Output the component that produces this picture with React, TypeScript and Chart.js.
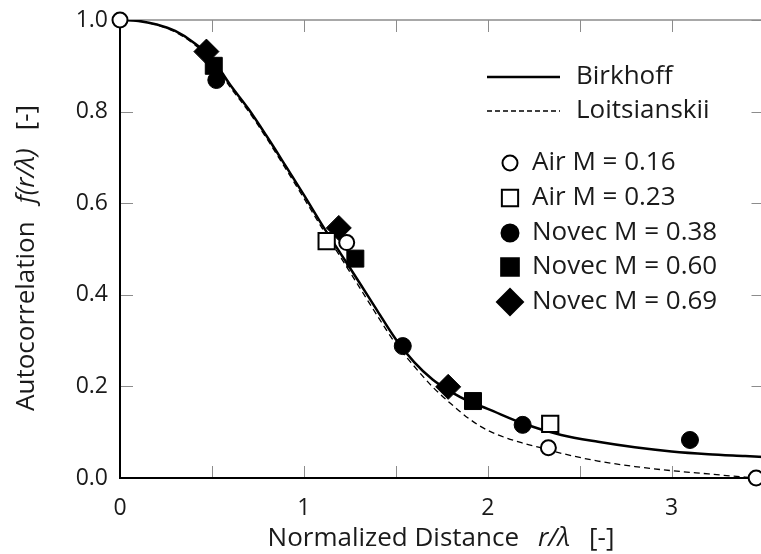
import React, { useEffect, useRef } from 'react';
import { Chart, registerables } from 'chart.js';

Chart.register(...registerables);

// ---------- data ----------
const birkhoffX = [0, 0.1, 0.2, 0.3, 0.4, 0.5, 0.6, 0.7, 0.8, 0.9, 1.0, 1.1, 1.2, 1.3, 1.4, 1.5, 1.6, 1.7, 1.8, 1.9, 2.0, 2.2, 2.4, 2.6, 2.8, 3.0, 3.2, 3.4, 3.5];
const birkhoffY = [1.0, 0.998, 0.99, 0.976, 0.951, 0.916, 0.858, 0.805, 0.745, 0.682, 0.618, 0.552, 0.49, 0.428, 0.365, 0.303, 0.253, 0.215, 0.188, 0.167, 0.151, 0.118, 0.094, 0.079, 0.067, 0.058, 0.052, 0.048, 0.046];

const loitsX = [0, 0.1, 0.2, 0.3, 0.4, 0.5, 0.6, 0.7, 0.8, 0.9, 1.0, 1.1, 1.2, 1.3, 1.4, 1.5, 1.6, 1.7, 1.8, 1.9, 2.0, 2.2, 2.3, 2.4, 2.6, 2.8, 3.0, 3.2, 3.4, 3.5];
const loitsY = [1.0, 0.998, 0.989, 0.974, 0.948, 0.912, 0.853, 0.8, 0.74, 0.676, 0.611, 0.545, 0.482, 0.418, 0.354, 0.293, 0.244, 0.199, 0.162, 0.129, 0.104, 0.075, 0.065, 0.054, 0.037, 0.025, 0.016, 0.009, 0.002, 0.0];

const airM016X = [0, 1.233, 2.33, 3.46];
const airM016Y = [1.0, 0.514, 0.066, 0.0];

const airM023X = [1.124, 2.34];
const airM023Y = [0.517, 0.118];

const novecM038X = [0.524, 1.538, 2.19, 3.10];
const novecM038Y = [0.869, 0.288, 0.116, 0.083];

const novecM060X = [0.51, 1.28, 1.92];
const novecM060Y = [0.90, 0.479, 0.168];

const novecM069X = [0.47, 1.19, 1.785];
const novecM069Y = [0.931, 0.546, 0.199];

const lineLabels = ['Birkhoff', 'Loitsianskii'];
const markerLabels = ['Air M = 0.16', 'Air M = 0.23', 'Novec M = 0.38', 'Novec M = 0.60', 'Novec M = 0.69'];

const xTitleParts = ['Normalized Distance', 'r/λ', '[-]'];
const yTitleParts = ['Autocorrelation', 'f(r/λ)', '[-]'];

const X_MIN = 0, X_MAX = 3.5, X_STEP = 0.5;
const Y_MIN = 0, Y_MAX = 1, Y_STEP = 0.2;

const zip = (xs: number[], ys: number[]) => xs.map((x, i) => ({ x, y: ys[i] }));

// ---------- style ----------
const FONT = '"Open Sans", "DejaVu Sans", sans-serif';
const FS_TICK = 23;
const FS = 26;
const TEXT = '#1a1a1a';
const GRAY = '#8c8c8c';

type Marker = 'circle' | 'rect' | 'rectRot';

function drawMarker(ctx: CanvasRenderingContext2D, kind: Marker, x: number, y: number, r: number, filled: boolean) {
  ctx.beginPath();
  if (kind === 'circle') {
    ctx.arc(x, y, r, 0, Math.PI * 2);
  } else if (kind === 'rect') {
    const s = r * Math.SQRT1_2;
    ctx.rect(x - s, y - s, 2 * s, 2 * s);
  } else {
    ctx.moveTo(x - r, y);
    ctx.lineTo(x, y - r);
    ctx.lineTo(x + r, y);
    ctx.lineTo(x, y + r);
    ctx.closePath();
  }
  ctx.fillStyle = filled ? '#000' : '#fff';
  ctx.fill();
  ctx.lineWidth = 2;
  ctx.strokeStyle = '#000';
  ctx.stroke();
}

function drawParts(ctx: CanvasRenderingContext2D, parts: string[], italic: boolean[], gap: number, cx: number, cy: number) {
  const fonts = italic.map((it) => `${it ? 'italic ' : ''}${FS}px ${FONT}`);
  const widths = parts.map((p, i) => {
    ctx.font = fonts[i];
    return ctx.measureText(p).width;
  });
  const total = widths.reduce((a, b) => a + b, 0) + gap * (parts.length - 1);
  let x = cx - total / 2;
  ctx.textAlign = 'left';
  ctx.textBaseline = 'middle';
  ctx.fillStyle = TEXT;
  parts.forEach((p, i) => {
    ctx.font = fonts[i];
    ctx.fillText(p, x, cy);
    x += widths[i] + gap;
  });
}

const decorPlugin = {
  id: 'decor',
  beforeDatasetsDraw(chart: any) {
    const { ctx, chartArea: a, scales } = chart;
    const xs = scales.x, ys = scales.y;
    ctx.save();
    // gray top/right frame
    ctx.strokeStyle = GRAY;
    ctx.lineWidth = 1.5;
    ctx.beginPath();
    ctx.moveTo(a.left, a.top);
    ctx.lineTo(a.right, a.top);
    ctx.lineTo(a.right, a.bottom);
    ctx.stroke();
    // inward ticks
    ctx.lineWidth = 1;
    ctx.beginPath();
    xs.ticks.forEach((t: any) => {
      const px = Math.round(xs.getPixelForValue(t.value)) + 0.5;
      ctx.moveTo(px, a.bottom);
      ctx.lineTo(px, a.bottom - 12);
      ctx.moveTo(px, a.top);
      ctx.lineTo(px, a.top + 12);
    });
    ys.ticks.forEach((t: any) => {
      const py = Math.round(ys.getPixelForValue(t.value)) + 0.5;
      ctx.moveTo(a.left, py);
      ctx.lineTo(a.left + 13, py);
      ctx.moveTo(a.right, py);
      ctx.lineTo(a.right - 12, py);
    });
    ctx.stroke();
    // black axes
    ctx.strokeStyle = '#000';
    ctx.lineWidth = 2;
    ctx.beginPath();
    ctx.moveTo(a.left, a.top);
    ctx.lineTo(a.left, a.bottom);
    ctx.lineTo(a.right, a.bottom);
    ctx.stroke();
    ctx.restore();
  },
  afterDraw(chart: any) {
    const { ctx } = chart;
    ctx.save();
    // axis titles
    drawParts(ctx, xTitleParts, [false, true, false], 19, 441, 539);
    ctx.save();
    ctx.translate(27, 258);
    ctx.rotate(-Math.PI / 2);
    drawParts(ctx, yTitleParts, [false, true, false], 18, 0, 0);
    ctx.restore();

    // legend: lines
    ctx.font = `${FS}px ${FONT}`;
    ctx.textAlign = 'left';
    ctx.textBaseline = 'middle';
    ctx.fillStyle = TEXT;
    const lineRows = [77, 111];
    lineRows.forEach((yy, i) => {
      ctx.beginPath();
      ctx.strokeStyle = '#000';
      if (i === 0) {
        ctx.lineWidth = 2.5;
        ctx.setLineDash([]);
      } else {
        ctx.lineWidth = 1.3;
        ctx.setLineDash([5, 3]);
      }
      ctx.moveTo(487, yy);
      ctx.lineTo(560, yy);
      ctx.stroke();
      ctx.setLineDash([]);
      ctx.fillText(lineLabels[i], 576, yy);
    });

    // legend: markers
    const kinds: Marker[] = ['circle', 'rect', 'circle', 'rect', 'rectRot'];
    const filled = [false, false, true, true, true];
    const sizes = [7.5, 11.5, 8.5, 12.5, 13];
    const rows = [163, 198, 233, 267, 302];
    rows.forEach((yy, i) => {
      drawMarker(ctx, kinds[i], 510, yy, sizes[i], filled[i]);
      ctx.font = `${FS}px ${FONT}`;
      ctx.fillStyle = TEXT;
      ctx.textAlign = 'left';
      ctx.textBaseline = 'middle';
      ctx.fillText(markerLabels[i], 532, yy);
    });
    ctx.restore();
  },
};

export default function App() {
  const ref = useRef<HTMLCanvasElement | null>(null);

  useEffect(() => {
    if (!ref.current) return;
    const markerBase = { showLine: false, clip: false as any, order: 0, borderColor: '#000' };
    const chart = new Chart(ref.current, {
      type: 'scatter',
      data: {
        datasets: [
          {
            label: lineLabels[0],
            data: zip(birkhoffX, birkhoffY),
            showLine: true,
            pointRadius: 0,
            borderColor: '#000',
            borderWidth: 2.5,
            cubicInterpolationMode: 'monotone',
            order: 10,
          } as any,
          {
            label: lineLabels[1],
            data: zip(loitsX, loitsY),
            showLine: true,
            pointRadius: 0,
            borderColor: '#000',
            borderWidth: 1.3,
            borderDash: [6, 4],
            cubicInterpolationMode: 'monotone',
            order: 11,
          } as any,
          {
            ...markerBase,
            label: markerLabels[0],
            data: zip(airM016X, airM016Y),
            pointStyle: 'circle',
            pointRadius: 7.5,
            pointBackgroundColor: '#fff',
            pointBorderColor: '#000',
            pointBorderWidth: 2,
          } as any,
          {
            ...markerBase,
            label: markerLabels[1],
            data: zip(airM023X, airM023Y),
            pointStyle: 'rect',
            pointRadius: 11.5,
            pointBackgroundColor: '#fff',
            pointBorderColor: '#000',
            pointBorderWidth: 2,
          } as any,
          {
            ...markerBase,
            label: markerLabels[2],
            data: zip(novecM038X, novecM038Y),
            pointStyle: 'circle',
            pointRadius: 8.5,
            pointBackgroundColor: '#000',
            pointBorderColor: '#000',
            pointBorderWidth: 1,
          } as any,
          {
            ...markerBase,
            label: markerLabels[3],
            data: zip(novecM060X, novecM060Y),
            pointStyle: 'rect',
            pointRadius: 12,
            pointBackgroundColor: '#000',
            pointBorderColor: '#000',
            pointBorderWidth: 1,
          } as any,
          {
            ...markerBase,
            label: markerLabels[4],
            data: zip(novecM069X, novecM069Y),
            pointStyle: 'rectRot',
            pointRadius: 12.5,
            pointBackgroundColor: '#000',
            pointBorderColor: '#000',
            pointBorderWidth: 1,
          } as any,
        ],
      },
      options: {
        animation: false,
        responsive: false,
        maintainAspectRatio: false,
        layout: { padding: { top: 20, right: 0, left: 0, bottom: 0 } },
        plugins: {
          legend: { display: false },
          tooltip: { enabled: false },
        },
        scales: {
          x: {
            type: 'linear',
            min: X_MIN,
            max: X_MAX,
            border: { display: false },
            grid: { display: false, drawTicks: false },
            ticks: {
              stepSize: X_STEP,
              autoSkip: false,
              maxRotation: 0,
              padding: 17,
              color: TEXT,
              font: { family: FONT, size: FS_TICK },
              callback: (v: any) => (Math.abs(v - Math.round(v)) < 1e-9 ? String(Math.round(v)) : ''),
            },
            afterFit: (s: any) => {
              s.height = 76;
              s.paddingLeft = 0;
              s.paddingRight = 0;
            },
          },
          y: {
            type: 'linear',
            min: Y_MIN,
            max: Y_MAX,
            border: { display: false },
            grid: { display: false, drawTicks: false },
            ticks: {
              stepSize: Y_STEP,
              padding: 12,
              color: TEXT,
              font: { family: FONT, size: FS_TICK },
              callback: (v: any) => Number(v).toFixed(1),
            },
            afterFit: (s: any) => {
              s.width = 120;
              s.paddingTop = 0;
              s.paddingBottom = 0;
            },
          },
        },
      } as any,
      plugins: [decorPlugin],
    });
    return () => chart.destroy();
  }, []);

  return (
    <div
      style={{
        position: 'fixed',
        left: 0,
        top: 0,
        width: 761,
        height: 554,
        overflow: 'hidden',
        background: '#fff',
      }}
    >
      <canvas ref={ref} width={777} height={554} style={{ display: 'block', width: 777, height: 554 }} />
    </div>
  );
}
